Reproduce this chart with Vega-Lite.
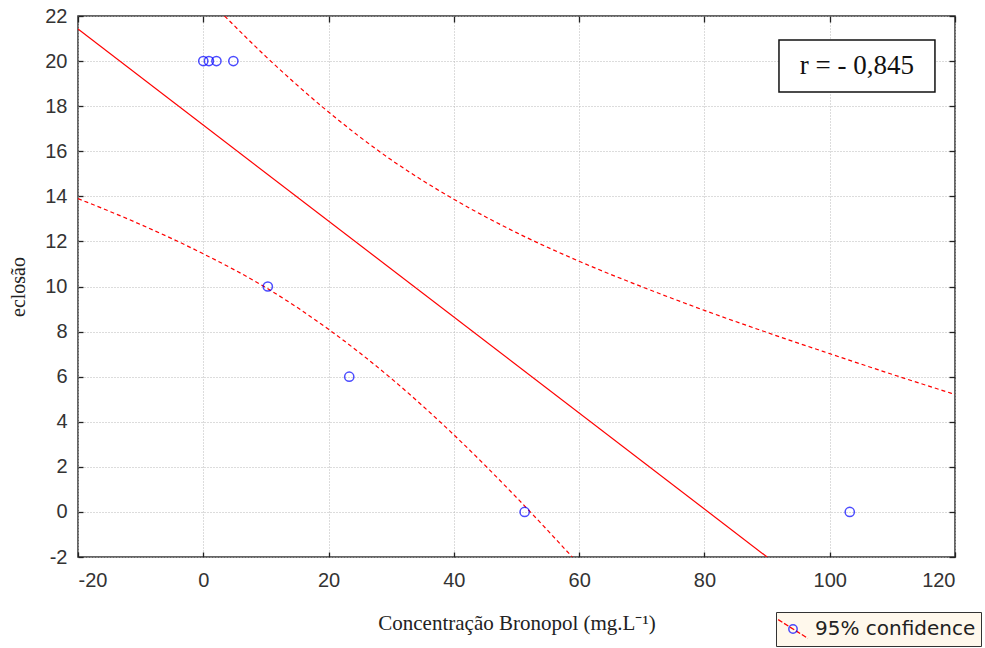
{
  "$schema": "https://vega.github.io/schema/vega-lite/v6.json",
  "width": 877,
  "height": 541,
  "autosize": {"type": "none"},
  "padding": {"left": 78, "top": 16, "right": 30, "bottom": 91},
  "background": "white",
  "datasets": {
    "points": [
      {"conc": 0, "eclosao": 20, "lg": "95% confidence"},
      {"conc": 0.9, "eclosao": 20, "lg": "95% confidence"},
      {"conc": 2.1, "eclosao": 20, "lg": "95% confidence"},
      {"conc": 4.8, "eclosao": 20, "lg": "95% confidence"},
      {"conc": 10.3, "eclosao": 10, "lg": "95% confidence"},
      {"conc": 23.3, "eclosao": 6, "lg": "95% confidence"},
      {"conc": 51.3, "eclosao": 0, "lg": "95% confidence"},
      {"conc": 103.2, "eclosao": 0, "lg": "95% confidence"}
    ],
    "fit": [
      {"conc": -20, "eclosao": 21.42},
      {"conc": 90.0, "eclosao": -2}
    ],
    "band": [
      {"side": "upper", "conc": 3.4, "eclosao": 22.0, "lg2": "95% confidence"},
      {"side": "upper", "conc": 10, "eclosao": 20.2, "lg2": "95% confidence"},
      {"side": "upper", "conc": 20, "eclosao": 17.74, "lg2": "95% confidence"},
      {"side": "upper", "conc": 30, "eclosao": 15.62, "lg2": "95% confidence"},
      {"side": "upper", "conc": 40, "eclosao": 13.87, "lg2": "95% confidence"},
      {"side": "upper", "conc": 50, "eclosao": 12.39, "lg2": "95% confidence"},
      {"side": "upper", "conc": 60, "eclosao": 11.12, "lg2": "95% confidence"},
      {"side": "upper", "conc": 70, "eclosao": 9.99, "lg2": "95% confidence"},
      {"side": "upper", "conc": 80, "eclosao": 8.94, "lg2": "95% confidence"},
      {"side": "upper", "conc": 90, "eclosao": 7.96, "lg2": "95% confidence"},
      {"side": "upper", "conc": 100, "eclosao": 7.02, "lg2": "95% confidence"},
      {"side": "upper", "conc": 110, "eclosao": 6.1, "lg2": "95% confidence"},
      {"side": "upper", "conc": 120, "eclosao": 5.21, "lg2": "95% confidence"},
      {"side": "lower", "conc": -20, "eclosao": 13.9, "lg2": "95% confidence"},
      {"side": "lower", "conc": -10, "eclosao": 12.75, "lg2": "95% confidence"},
      {"side": "lower", "conc": 0, "eclosao": 11.45, "lg2": "95% confidence"},
      {"side": "lower", "conc": 10, "eclosao": 9.95, "lg2": "95% confidence"},
      {"side": "lower", "conc": 20, "eclosao": 8.1, "lg2": "95% confidence"},
      {"side": "lower", "conc": 30, "eclosao": 5.92, "lg2": "95% confidence"},
      {"side": "lower", "conc": 40, "eclosao": 3.42, "lg2": "95% confidence"},
      {"side": "lower", "conc": 50, "eclosao": 0.64, "lg2": "95% confidence"},
      {"side": "lower", "conc": 58.9, "eclosao": -2.0, "lg2": "95% confidence"}
    ],
    "note": [
      {"x1": 91.9, "x2": 116.8, "y1": 20.94, "y2": 18.63, "xc": 104.35, "yc": 19.78, "label": "r = - 0,845"}
    ]
  },
  "resolve": {"axis": {"x": "independent", "y": "independent"}},
  "config": {
    "view": {"stroke": "#333333", "strokeWidth": 1.5},
    "axis": {
      "grid": true,
      "gridColor": "#b8b8b8",
      "gridDash": [1, 2],
      "gridWidth": 1,
      "domain": false,
      "tickColor": "#222222",
      "tickSize": -5,
      "tickWidth": 1.3,
      "labelFont": "Liberation Sans",
      "labelFontSize": 20,
      "labelColor": "#333333",
      "labelExpr": "'' + datum.value",
      "titleFont": "Liberation Serif",
      "titleFontSize": 21,
      "titleFontWeight": "normal",
      "titleColor": "#222222"
    }
  },
  "layer": [
    {
      "data": {"name": "band"},
      "mark": {"type": "line", "clip": true, "strokeDash": [4, 3], "strokeWidth": 1.2, "interpolate": "monotone"},
      "encoding": {
        "x": {"field": "conc", "type": "quantitative",
              "scale": {"domain": [-20, 120], "nice": false, "zero": false},
              "axis": {"values": [-20, 0, 20, 40, 60, 80, 100, 120], "title": "Concentração Bronopol (mg.L⁻¹)", "labelPadding": 18, "titlePadding": 22}},
        "y": {"field": "eclosao", "type": "quantitative",
              "scale": {"domain": [-2, 22], "nice": false, "zero": false},
              "axis": {"values": [-2, 0, 2, 4, 6, 8, 10, 12, 14, 16, 18, 20, 22], "title": "eclosão", "titleFontSize": 20, "labelPadding": 16, "titlePadding": 16}},
        "detail": {"field": "side"},
        "color": {"field": "lg2", "type": "nominal", "scale": {"range": ["#ff0000"]},
                  "legend": {"title": null, "orient": "none", "legendX": 698, "legendY": 596,
                             "symbolType": "M-1.35,-0.85L1.35,0.85", "symbolSize": 484, "symbolStrokeWidth": 1.3, "symbolDash": [5, 2],
                             "labelFont": "DejaVu Sans", "labelFontSize": 20, "labelColor": "#222222", "labelOpacity": 0, "labelOffset": 10, "labelLimit": 400,
                             "fillColor": "#fff8ec", "strokeColor": "#333333", "padding": 5, "zindex": 0}}
      }
    },
    {
      "data": {"name": "fit"},
      "mark": {"type": "line", "clip": true, "color": "#ff0000", "strokeWidth": 1.2},
      "encoding": {
        "x": {"field": "conc", "type": "quantitative",
              "axis": {"orient": "top", "labels": false, "title": null, "grid": false, "tickSize": -6, "values": [-20, 0, 20, 40, 60, 80, 100, 120]}},
        "y": {"field": "eclosao", "type": "quantitative",
              "axis": {"orient": "right", "labels": false, "title": null, "grid": false, "tickSize": -6, "values": [-2, 0, 2, 4, 6, 8, 10, 12, 14, 16, 18, 20, 22]}}
      }
    },
    {
      "data": {"name": "points"},
      "mark": {"type": "point", "filled": false, "size": 85, "strokeWidth": 1.5},
      "encoding": {
        "x": {"field": "conc", "type": "quantitative", "axis": null},
        "y": {"field": "eclosao", "type": "quantitative", "axis": null},
        "stroke": {"field": "lg", "type": "nominal", "scale": {"range": ["#0000ff"]},
                   "legend": {"title": null, "orient": "none", "legendX": 698, "legendY": 596,
                              "symbolType": "M0.38,0A0.38,0.38 0 1,1 -0.38,0A0.38,0.38 0 1,1 0.38,0Z", "symbolSize": 484, "symbolStrokeWidth": 1.5,
                              "labelFont": "DejaVu Sans", "labelFontSize": 20, "labelColor": "#222222", "labelOffset": 10, "labelLimit": 400,
                              "padding": 5, "zindex": 1}}
      }
    },
    {
      "data": {"name": "note"},
      "mark": {"type": "rect", "fill": "white", "stroke": "#111111", "strokeWidth": 1.5},
      "encoding": {
        "x": {"field": "x1", "type": "quantitative", "axis": null},
        "x2": {"field": "x2"},
        "y": {"field": "y1", "type": "quantitative", "axis": null},
        "y2": {"field": "y2"}
      }
    },
    {
      "data": {"name": "note"},
      "mark": {"type": "text", "font": "Liberation Serif", "fontSize": 27, "color": "#111111", "baseline": "middle", "align": "center"},
      "encoding": {
        "x": {"field": "xc", "type": "quantitative", "axis": null},
        "y": {"field": "yc", "type": "quantitative", "axis": null},
        "text": {"field": "label"}
      }
    }
  ]
}
